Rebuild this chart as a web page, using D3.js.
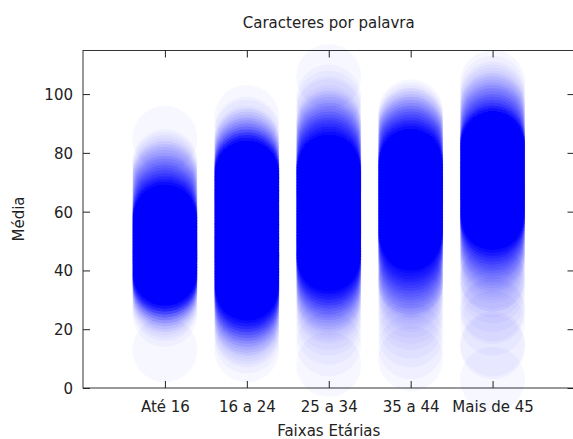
<!DOCTYPE html>
<html>
<head>
<meta charset="utf-8">
<script src="https://cdn.jsdelivr.net/npm/d3@7"></script>
<style>
    body { margin: 0; background: #fff; }
    text { font-family: "DejaVu Sans", sans-serif; fill: #222; }
</style>
</head>
<body>
<div class="chart"></div>
<script>

// categories (x axis) and the averages of each group, as [media, how many people]
const categories = ["Até 16", "16 a 24", "25 a 34", "35 a 44", "Mais de 45"];
const yTicks = [0, 20, 40, 60, 80, 100];

const ate16 = [
    [85, 1], [77, 1], [76, 1], [75, 1], [74, 1], [73, 2], [72, 2], [71, 2], [70, 2],
    [69, 2], [68, 3], [67, 3], [66, 3], [65, 4], [64, 4], [63, 5], [62, 6], [61, 8],
    [60, 10], [59, 14],
    [58, 17], [57, 18], [56, 19], [55, 18], [54, 18], [53, 19], [52, 18], [51, 17],
    [50, 19], [49, 18], [48, 18], [47, 19], [46, 18], [45, 17], [44, 18], [43, 19],
    [42, 18], [41, 18], [40, 17], [39, 18], [38, 17],
    [37, 14], [36, 10], [35, 7], [34, 5], [33, 4], [32, 3], [31, 2], [30, 2], [29, 1],
    [28, 1], [27, 1], [25, 1], [13, 1]
];

const de16a24 = [
    [92, 1], [88, 1], [87, 1], [85, 1], [84, 2], [83, 2], [82, 2], [81, 3], [80, 3],
    [79, 4], [78, 5], [77, 7], [76, 9], [75, 12],
    [74, 17], [73, 18], [72, 19], [71, 18], [70, 18], [69, 17], [68, 19], [67, 18],
    [66, 18], [65, 19], [64, 18], [63, 17], [62, 18], [61, 19], [60, 18], [59, 18],
    [58, 17], [57, 18], [56, 19], [55, 18], [54, 18], [53, 17], [52, 19], [51, 18],
    [50, 18], [49, 19], [48, 18], [47, 17], [46, 18], [45, 19], [44, 18], [43, 18],
    [42, 17], [41, 18], [40, 19], [39, 18], [38, 18], [37, 17], [36, 18], [35, 17],
    [34, 16],
    [33, 14], [32, 11], [31, 9], [30, 7], [29, 6], [28, 5], [27, 4], [26, 3], [25, 3],
    [24, 2], [23, 2], [22, 2], [21, 1], [20, 1], [19, 1], [18, 1], [16, 1], [13, 1]
];

const de25a34 = [
    [106, 1], [99, 1], [97, 1], [95, 1], [94, 1], [92, 1], [91, 1], [90, 2], [89, 2],
    [88, 2], [87, 2], [86, 3], [85, 3], [84, 3], [83, 4], [82, 4], [81, 5], [80, 5],
    [79, 6], [78, 7], [77, 9], [76, 12],
    [75, 16], [74, 18], [73, 19], [72, 18], [71, 18], [70, 17], [69, 19], [68, 18],
    [67, 18], [66, 19], [65, 18], [64, 17], [63, 18], [62, 19], [61, 18], [60, 18],
    [59, 17], [58, 18], [57, 19], [56, 18], [55, 18], [54, 17], [53, 19], [52, 18],
    [51, 18], [50, 19], [49, 18], [48, 17], [47, 18], [46, 18], [45, 17], [44, 16],
    [43, 14], [42, 10], [41, 8], [40, 7], [39, 6], [38, 5], [37, 4], [36, 4], [35, 3],
    [34, 3], [33, 2], [32, 2], [31, 2], [30, 2], [29, 1], [28, 1], [27, 1], [26, 1],
    [24, 1], [22, 1], [19, 1], [15, 1], [8, 1]
];

const de35a44 = [
    [94, 1], [93, 1], [92, 1], [91, 2], [90, 2], [89, 2], [88, 3], [87, 3], [86, 3],
    [85, 4], [84, 4], [83, 5], [82, 5], [81, 6], [80, 7], [79, 9], [78, 12],
    [77, 16], [76, 18], [75, 19], [74, 18], [73, 18], [72, 17], [71, 19], [70, 18],
    [69, 18], [68, 19], [67, 18], [66, 17], [65, 18], [64, 19], [63, 18], [62, 18],
    [61, 17], [60, 18], [59, 19], [58, 18], [57, 18], [56, 17], [55, 18], [54, 18],
    [53, 17], [52, 16],
    [51, 14], [50, 10], [49, 8], [48, 7], [47, 6], [46, 5], [45, 5], [44, 4], [43, 4],
    [42, 3], [41, 3], [40, 3], [39, 2], [38, 3], [37, 2], [36, 3], [35, 2], [34, 1],
    [33, 1], [32, 1], [31, 1], [30, 1], [28, 1], [26, 1], [24, 1], [21, 1], [18, 1],
    [14, 1], [10, 1]
];

const mais45 = [
    [104, 1], [102, 1], [100, 1], [99, 1], [98, 1], [97, 1], [96, 2], [95, 2], [94, 2],
    [93, 2], [92, 3], [91, 3], [90, 3], [89, 4], [88, 4], [87, 5], [86, 7], [85, 10],
    [84, 15], [83, 18], [82, 19], [81, 18], [80, 18], [79, 17], [78, 19], [77, 18],
    [76, 18], [75, 19], [74, 18], [73, 17], [72, 18], [71, 19], [70, 18], [69, 18],
    [68, 17], [67, 18], [66, 19], [65, 18], [64, 18], [63, 17], [62, 18], [61, 18],
    [60, 17], [59, 17], [58, 16],
    [57, 14], [56, 10], [55, 7], [54, 6], [53, 5], [52, 4], [51, 4], [50, 3], [49, 3],
    [48, 3], [47, 2], [46, 2], [45, 2], [44, 2], [43, 1], [42, 1], [41, 1], [40, 1],
    [38, 1], [37, 2], [35, 1], [33, 1], [30, 1], [27, 1], [26, 1], [22, 1], [15, 1],
    [14, 1], [3, 1]
];

const groups = [ate16, de16a24, de25a34, de35a44, mais45];

function drawChart() {

    const width = 573, height = 439;
    const left = 83, right = 574.5, top = 50, bottom = 388;
    const radius = 32.5;
    const alpha = 0.03;

    const x = d3.scaleLinear().domain([0, categories.length + 1]).range([left, right]);
    const y = d3.scaleLinear().domain([0, 115]).range([bottom, top]);

    const svg = d3.select(".chart").append("svg")
        .attr("width", width)
        .attr("height", height);

    // one circle per person, group index + 1 gives the x position
    let points = [];
    groups.forEach((g, i) => {
        g.forEach(([media, n]) => {
            for (let k = 0; k < n; k++) points.push({ cat: i + 1, media: media });
        });
    });

    svg.append("g").selectAll("circle")
        .data(points)
        .enter().append("circle")
        .attr("cx", d => x(d.cat))
        .attr("cy", d => y(d.media))
        .attr("r", radius)
        .style("fill", "#0000ff")
        .style("fill-opacity", alpha);

    // frame
    svg.append("rect")
        .attr("x", left).attr("y", top + 0.5)
        .attr("width", right - left).attr("height", bottom - top - 0.5)
        .style("fill", "none")
        .style("stroke", "#333")
        .style("stroke-width", 1);

    const tick = 7;
    const fontSize = "15px";

    svg.append("g")
        .attr("transform", "translate(0," + bottom + ")")
        .call(d3.axisBottom(x)
            .tickValues(d3.range(1, categories.length + 1))
            .tickFormat(d => categories[d - 1])
            .tickSize(-tick).tickSizeOuter(0).tickPadding(13));

    svg.append("g")
        .attr("transform", "translate(0," + (top + 0.5) + ")")
        .call(d3.axisTop(x)
            .tickValues(d3.range(1, categories.length + 1))
            .tickFormat("")
            .tickSize(-tick).tickSizeOuter(0));

    const yLeft = svg.append("g")
        .attr("transform", "translate(" + left + ",0)")
        .call(d3.axisLeft(y)
            .tickValues(yTicks)
            .tickSize(-tick).tickSizeOuter(0).tickPadding(10));

    svg.append("g")
        .attr("transform", "translate(" + right + ",0)")
        .call(d3.axisRight(y)
            .tickValues(yTicks)
            .tickFormat("")
            .tickSize(-tick).tickSizeOuter(0));

    svg.selectAll(".domain").remove();
    svg.selectAll(".tick line").style("stroke", "#222");
    svg.selectAll(".tick text")
        .style("font-family", "DejaVu Sans, sans-serif")
        .style("font-size", fontSize)
        .style("fill", "#222");
    yLeft.selectAll(".tick text").attr("dy", "0.36em");

    svg.append("text")
        .attr("x", (left + right) / 2)
        .attr("y", 28)
        .style("text-anchor", "middle")
        .style("font-size", fontSize)
        .text("Caracteres por palavra");

    svg.append("text")
        .attr("x", (left + right) / 2)
        .attr("y", 435.5)
        .style("text-anchor", "middle")
        .style("font-size", fontSize)
        .text("Faixas Etárias");

    svg.append("text")
        .attr("transform", "translate(23.5,219) rotate(-90)")
        .style("text-anchor", "middle")
        .style("font-size", fontSize)
        .text("Média");
}

drawChart();
</script>
</body>
</html>
